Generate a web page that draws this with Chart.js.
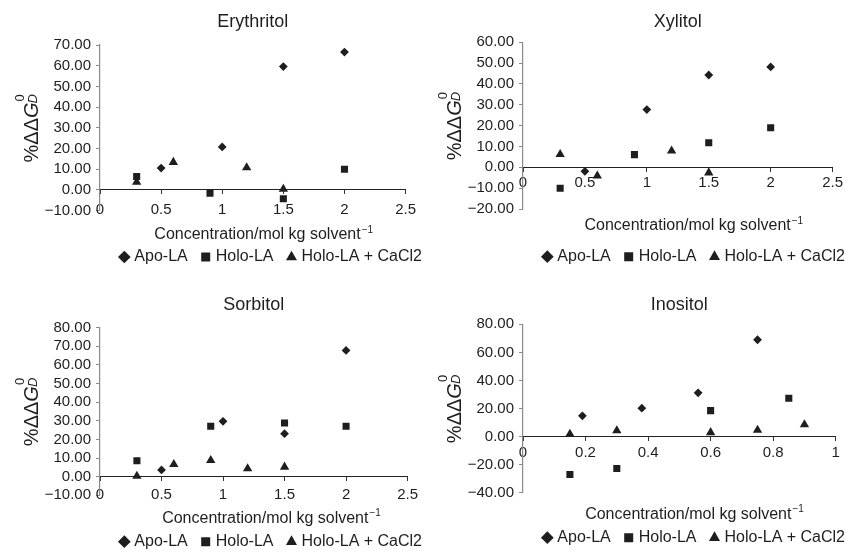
<!DOCTYPE html>
<html>
<head>
<meta charset="utf-8">
<script src="https://cdn.jsdelivr.net/npm/chart.js@4/dist/chart.umd.min.js"></script>
<style>
  html, body { margin: 0; padding: 0; background: #fff; overflow: hidden; }
  .panel { position: absolute; width: 423px; height: 276px; }
</style>
</head>
<body>
<div class="panel" style="left:0;top:0"><canvas id="c1"></canvas></div>
<div class="panel" style="left:423px;top:0"><canvas id="c2"></canvas></div>
<div class="panel" style="left:0;top:276px"><canvas id="c3"></canvas></div>
<div class="panel" style="left:423px;top:276px"><canvas id="c4"></canvas></div>
<script>
// ---- data (x = concentration, y = %ΔΔG) ----
const seriesNames = ['Apo-LA', 'Holo-LA', 'Holo-LA + CaCl2'];

const erythritolApo   = [[0.5, 10.6], [1, 20.8], [1.5, 59.6], [2, 66.6]];
const erythritolHolo  = [[0.3, 6.5], [0.9, -1.5], [1.5, -4.2], [2, 10]];
const erythritolCaCl2 = [[0.3, 3.8], [0.6, 13.4], [1.2, 10.8], [1.5, 0.4]];

const xylitolApo   = [[0.5, -1.9], [1, 27.7], [1.5, 44.3], [2, 48.2]];
const xylitolHolo  = [[0.3, -10], [0.9, 6.1], [1.5, 11.8], [2, 19]];
const xylitolCaCl2 = [[0.3, 6.2], [0.6, -4.1], [1.2, 7.9], [1.5, -2.6]];

const sorbitolApo   = [[0.5, 3.6], [1, 29.7], [1.5, 23.1], [2, 67.8]];
const sorbitolHolo  = [[0.3, 8.6], [0.9, 27.1], [1.5, 28.8], [2, 27.1]];
const sorbitolCaCl2 = [[0.3, 0.3], [0.6, 6.6], [0.9, 8.8], [1.2, 4.3], [1.5, 5.2]];

const inositolApo   = [[0.19, 14.8], [0.38, 20.2], [0.56, 31.2], [0.75, 69]];
const inositolHolo  = [[0.15, -27], [0.3, -22.8], [0.6, 18.5], [0.85, 27.3]];
const inositolCaCl2 = [[0.15, 1.8], [0.3, 4.2], [0.6, 2.9], [0.75, 4.6], [0.9, 8.5]];

const panelTitles = ['Erythritol', 'Xylitol', 'Sorbitol', 'Inositol'];
const xAxisTitle = 'Concentration/mol kg solvent';

// axis ranges: [xMax, xStep, yMin, yMax, yStep]
const axisRanges = [
  [2.5, 0.5, -10, 70, 10],
  [2.5, 0.5, -20, 60, 10],
  [2.5, 0.5, -10, 80, 10],
  [1, 0.2, -40, 80, 20],
];

// layout per panel (canvas px)
const layouts = [
  { top: 45,   bottom: 210.7, right: 409,   titleY: 22,   xtX: 263.7, xtY: 235,   legY: 257,   tickPad: 7 },
  { top: 42.3, bottom: 209,   right: 411,   titleY: 21.7, xtX: 270.8, xtY: 226,   legY: 256.7, tickPad: 3 },
  { top: 51.7, bottom: 219.3, right: 410.7, titleY: 29.3, xtX: 271.5, xtY: 242.7, legY: 265.7, tickPad: 5 },
  { top: 48.3, bottom: 216.7, right: 412.7, titleY: 29.3, xtX: 271.5, xtY: 238.3, legY: 261.7, tickPad: 3 },
];

const INK = '#1e1e1e';
const FONT = '"Liberation Sans", Arial, sans-serif';
const W = 423, H = 276;
const LEG_PAD = 16, PAD_R = -15;

const toPts = arr => arr.map(p => ({ x: p[0], y: p[1] }));

// axis titles with sub/superscripts
const axisTitlePlugin = {
  id: 'axisTitles',
  afterDraw(chart) {
    const { ctx, chartArea } = chart;
    const lay = chart.options.plugins.axisTitles.lay;
    ctx.save();
    ctx.fillStyle = INK;
    ctx.textBaseline = 'alphabetic';
    // y title: %ΔΔG⁰_D rotated
    const cy = (chartArea.top + chartArea.bottom) / 2;
    ctx.translate(38, cy);
    ctx.rotate(-Math.PI / 2);
    ctx.font = '20px ' + FONT;
    const w1 = ctx.measureText('%ΔΔ').width;
    ctx.font = 'italic 20px ' + FONT;
    const wG = ctx.measureText('G').width;
    ctx.font = '13px ' + FONT;
    const wS = ctx.measureText('0').width + 2;
    let x0 = -(w1 + wG + wS) / 2;
    ctx.textAlign = 'left';
    ctx.font = '20px ' + FONT;
    ctx.fillText('%ΔΔ', x0, 0);
    ctx.font = 'italic 20px ' + FONT;
    ctx.fillText('G', x0 + w1, 0);
    ctx.font = '13px ' + FONT;
    ctx.fillText('0', x0 + w1 + wG + 1, -14);
    ctx.font = 'italic 13px ' + FONT;
    ctx.fillText('D', x0 + w1 + wG - 1, -1);
    ctx.restore();

    // x title with superscript −1
    ctx.save();
    ctx.fillStyle = INK;
    ctx.textBaseline = 'middle';
    ctx.font = '16px ' + FONT;
    const wm = ctx.measureText(xAxisTitle).width;
    ctx.font = '10px ' + FONT;
    const ws = ctx.measureText('−1').width;
    const xs = lay.xtX - (wm + ws + 1) / 2;
    ctx.textAlign = 'left';
    ctx.font = '16px ' + FONT;
    ctx.fillText(xAxisTitle, xs, lay.xtY);
    ctx.font = '10px ' + FONT;
    ctx.fillText('−1', xs + wm + 1, lay.xtY - 5);
    ctx.restore();
  }
};

const panelData = [
  [erythritolApo, erythritolHolo, erythritolCaCl2],
  [xylitolApo, xylitolHolo, xylitolCaCl2],
  [sorbitolApo, sorbitolHolo, sorbitolCaCl2],
  [inositolApo, inositolHolo, inositolCaCl2],
];
const styles = [
  { pointStyle: 'rectRot', radius: 4.4 },
  { pointStyle: 'rect', radius: 5 },
  { pointStyle: 'triangle', radius: 5.4 },
];

panelData.forEach((series, i) => {
  const [xMax, xStep, yMin, yMax, yStep] = axisRanges[i];
  const lay = layouts[i];
  const titleLH = 18 * 1.2;
  const legH = 16 + LEG_PAD + 10;

  new Chart(document.getElementById('c' + (i + 1)), {
    type: 'scatter',
    data: {
      datasets: series.map((pts, k) => ({
        label: seriesNames[k],
        data: toPts(pts),
        xAxisID: 'x',
        yAxisID: 'y',
        pointStyle: styles[k].pointStyle,
        pointRadius: styles[k].radius,
        pointHoverRadius: styles[k].radius,
        backgroundColor: INK,
        borderColor: INK,
        borderWidth: 0,
      }))
    },
    options: {
      responsive: true,
      maintainAspectRatio: false,
      animation: false,
      events: [],
      layout: { padding: { left: 0, top: 0, right: PAD_R, bottom: H - (lay.legY + legH - LEG_PAD - 8) } },
      plugins: {
        tooltip: { enabled: false },
        title: {
          display: true,
          text: panelTitles[i],
          fullSize: false,
          color: INK,
          font: { family: FONT, size: 18, weight: 'normal' },
          padding: { top: lay.titleY - titleLH / 2, bottom: lay.top - lay.titleY - titleLH / 2 }
        },
        legend: {
          position: 'bottom',
          align: 'end',
          labels: {
            usePointStyle: true,
            boxWidth: 4,
            boxHeight: 9,
            padding: LEG_PAD,
            color: INK,
            font: { family: FONT, size: 16 }
          }
        },
        axisTitles: { lay }
      },
      scales: {
        x: {
          type: 'linear',
          position: { y: 0 },
          min: 0, max: xMax,
          ticks: {
            stepSize: xStep,
            autoSkip: false,
            maxRotation: 0,
            padding: lay.tickPad,
            color: INK,
            font: { family: FONT, size: 15 },
            callback: v => String(+v.toFixed(2))
          },
          grid: { drawOnChartArea: false, tickLength: 4, color: '#333' },
          border: { color: '#222', width: 1 }
        },
        y: {
          type: 'linear',
          position: 'left',
          min: yMin, max: yMax,
          ticks: {
            stepSize: yStep,
            autoSkip: false,
            padding: 5,
            color: INK,
            font: { family: FONT, size: 15 },
            callback: v => (v < 0 ? '−' : '') + Math.abs(v).toFixed(2)
          },
          grid: { drawOnChartArea: false, tickLength: 4, color: '#8a8a8a' },
          border: { color: '#8a8a8a', width: 1.2 },
          afterFit: s => { s.width = 100; }
        },
        yr: {
          type: 'linear',
          position: 'right',
          min: 0, max: 1,
          ticks: { display: false },
          grid: { display: false, drawTicks: false },
          border: { display: false },
          afterFit: s => { s.width = W - PAD_R - lay.right; }
        },
        x2: {
          type: 'linear',
          position: 'bottom',
          min: 0, max: 1,
          ticks: { display: false },
          grid: { display: false, drawTicks: false },
          border: { display: false },
          afterFit: s => { s.height = (lay.legY - LEG_PAD - 8) - lay.bottom; }
        }
      }
    },
    plugins: [axisTitlePlugin]
  });
});
</script>
</body>
</html>
